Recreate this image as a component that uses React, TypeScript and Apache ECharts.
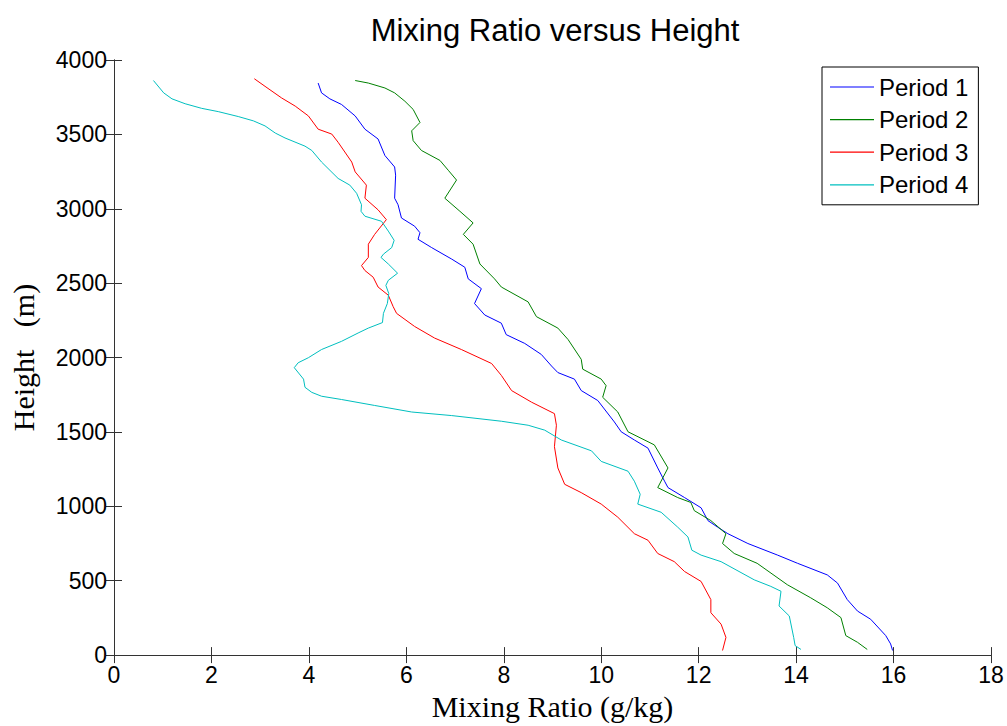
import React, { useEffect, useRef } from "react";
import * as echarts from "echarts";

const seriesNames = ["Period 1", "Period 2", "Period 3", "Period 4"];
const seriesColors = ["#0000ff", "#008000", "#ff0000", "#00bfbf"];

// [mixing ratio (g/kg), height (m)]
const period1: number[][] = [
  [4.19, 3845], [4.26, 3779], [4.43, 3739], [4.67, 3701], [4.95, 3624], [5.15, 3535], [5.42, 3469],
  [5.56, 3358], [5.76, 3281], [5.78, 3226], [5.76, 3071], [5.83, 3027], [5.9, 2938], [6.17, 2883],
  [6.28, 2839], [6.24, 2795], [6.52, 2739], [6.93, 2662], [7.2, 2607], [7.27, 2529], [7.54, 2463],
  [7.4, 2363], [7.61, 2286], [7.95, 2231], [8.05, 2154], [8.43, 2095], [8.77, 2021], [8.98, 1943],
  [9.11, 1899], [9.45, 1855], [9.59, 1778], [9.93, 1711], [10.27, 1567], [10.41, 1501], [10.68, 1446],
  [10.96, 1391], [11.16, 1258], [11.3, 1169], [11.37, 1126], [11.71, 1059], [12.05, 990], [12.19, 904],
  [12.39, 860], [12.6, 816], [13.01, 750], [13.62, 672], [14.03, 617], [14.64, 539], [14.85, 484],
  [15.05, 373], [15.26, 296], [15.53, 241], [15.84, 131], [15.94, 75], [15.98, 31],
];

const period2: number[][] = [
  [4.95, 3862], [5.22, 3845], [5.56, 3812], [5.76, 3779], [5.97, 3723], [6.14, 3668], [6.28, 3580],
  [6.11, 3524], [6.14, 3458], [6.31, 3392], [6.69, 3325], [6.86, 3259], [7.03, 3193], [6.79, 3071],
  [7.1, 2983], [7.37, 2905], [7.17, 2828], [7.37, 2762], [7.51, 2629], [7.81, 2529], [7.95, 2474],
  [8.5, 2374], [8.67, 2275], [9.11, 2198], [9.32, 2121], [9.59, 1988], [9.62, 1922], [10.0, 1855],
  [10.1, 1811], [10.03, 1733], [10.34, 1634], [10.55, 1501], [11.09, 1413], [11.37, 1258], [11.16, 1126],
  [11.57, 1059], [11.84, 1026], [11.91, 971], [12.25, 904], [12.56, 816], [12.49, 750], [12.73, 683],
  [13.2, 617], [13.82, 473], [14.3, 385], [14.64, 318], [14.92, 252], [15.02, 131], [15.26, 86],
  [15.46, 38],
];

const period3: number[][] = [
  [2.88, 3874], [3.1, 3823], [3.44, 3745], [3.72, 3690], [3.99, 3624], [4.19, 3535], [4.47, 3502],
  [4.6, 3447], [4.88, 3314], [4.95, 3248], [5.18, 3159], [5.15, 3071], [5.42, 2993], [5.59, 2927],
  [5.35, 2828], [5.22, 2762], [5.22, 2673], [5.08, 2618], [5.15, 2585], [5.32, 2540], [5.42, 2474],
  [5.63, 2419], [5.73, 2342], [5.8, 2297], [6.17, 2209], [6.58, 2131], [7.13, 2054], [7.75, 1960],
  [7.95, 1880], [8.16, 1778], [8.57, 1700], [9.04, 1623], [9.08, 1545], [9.04, 1401], [9.11, 1258],
  [9.25, 1148], [9.59, 1092], [10.0, 1015], [10.34, 927], [10.68, 816], [10.96, 772], [11.16, 683],
  [11.5, 628], [11.71, 562], [12.05, 495], [12.25, 373], [12.25, 285], [12.46, 208], [12.56, 119],
  [12.49, 31],
];

const period4: number[][] = [
  [0.81, 3862], [1.02, 3779], [1.19, 3739], [1.46, 3706], [1.8, 3675], [2.14, 3653], [2.55, 3620],
  [2.86, 3591], [3.1, 3557], [3.31, 3509], [3.51, 3476], [3.92, 3421], [4.06, 3392], [4.26, 3314],
  [4.6, 3204], [4.84, 3159], [4.98, 3104], [5.08, 3027], [5.07, 2983], [5.15, 2950], [5.49, 2916],
  [5.63, 2850], [5.75, 2788], [5.7, 2739], [5.53, 2695], [5.48, 2673], [5.63, 2629], [5.82, 2567],
  [5.63, 2519], [5.58, 2485], [5.64, 2430], [5.61, 2363], [5.53, 2297], [5.51, 2235], [5.22, 2198],
  [5.01, 2165], [4.67, 2109], [4.26, 2054], [3.99, 1999], [3.78, 1965], [3.7, 1932], [3.89, 1855],
  [3.92, 1800], [4.06, 1766], [4.26, 1740], [4.67, 1718], [5.35, 1678], [6.11, 1634], [6.93, 1610],
  [7.95, 1572], [8.5, 1545], [8.84, 1512], [9.18, 1446], [9.8, 1373], [10.0, 1302], [10.55, 1236],
  [10.68, 1169], [10.8, 1081], [10.75, 1015], [11.23, 960], [11.57, 860], [11.78, 794], [11.86, 705],
  [12.05, 672], [12.46, 628], [13.14, 506], [13.48, 462], [13.69, 429], [13.65, 330], [13.86, 263],
  [13.95, 119], [13.98, 64], [14.1, 38],
];

const allSeries = [period1, period2, period3, period4];

const titleText = "Mixing Ratio versus Height";
const xAxisName = "Mixing Ratio (g/kg)";
const yAxisName = "Height   (m)";

const sans = "'Liberation Sans', Arial, sans-serif";
const serif = "'Liberation Serif', 'Times New Roman', serif";
const axisColor = "#333333";

export default function App() {
  const ref = useRef<HTMLDivElement>(null);

  useEffect(() => {
    if (!ref.current) return;
    const chart = echarts.init(ref.current, null, { renderer: "svg" });
    const tickStyle = { show: true, inside: true, length: 8, lineStyle: { color: axisColor, width: 1 } };
    const lineStyle = { show: true, lineStyle: { color: axisColor, width: 1 } };
    chart.setOption({
      animation: false,
      backgroundColor: "#ffffff",
      title: {
        text: titleText,
        left: 550,
        textAlign: "center",
        top: 10,
        textStyle: { fontFamily: sans, fontSize: 31, fontWeight: "normal", color: "#000" },
      },
      legend: {
        data: seriesNames.map((n) => ({ name: n, icon: "rect" })),
        orient: "vertical",
        left: 822,
        top: 67,
        itemWidth: 44,
        itemHeight: 1.2,
        itemGap: 8.6,
        padding: [8, 10, 8, 8],
        borderColor: "#000",
        borderWidth: 1,
        backgroundColor: "#fff",
        textStyle: { fontFamily: sans, fontSize: 24, color: "#000", lineHeight: 24 },
      },
      grid: { left: 112, right: 16, top: 60, bottom: 63, containLabel: false },
      xAxis: [
        {
          type: "value",
          min: 0,
          max: 18,
          interval: 2,
          position: "bottom",
          name: xAxisName,
          nameLocation: "middle",
          nameGap: 30,
          nameTextStyle: { fontFamily: serif, fontSize: 30, color: "#000" },
          axisLine: lineStyle,
          axisTick: tickStyle,
          axisLabel: { fontFamily: sans, fontSize: 23, color: "#000", margin: 8, formatter: (v: number) => String(v) },
          splitLine: { show: false },
        },
        {
          type: "value",
          min: 0,
          max: 18,
          interval: 2,
          position: "top",
          axisLine: lineStyle,
          axisTick: tickStyle,
          axisLabel: { show: false },
          splitLine: { show: false },
        },
      ],
      yAxis: [
        {
          type: "value",
          min: 0,
          max: 4000,
          interval: 500,
          position: "left",
          name: yAxisName,
          nameLocation: "middle",
          nameGap: 76,
          nameTextStyle: { fontFamily: serif, fontSize: 30, color: "#000" },
          axisLine: lineStyle,
          axisTick: tickStyle,
          axisLabel: { fontFamily: sans, fontSize: 23, color: "#000", margin: 7, formatter: (v: number) => String(v) },
          splitLine: { show: false },
        },
        {
          type: "value",
          min: 0,
          max: 4000,
          interval: 500,
          position: "right",
          axisLine: lineStyle,
          axisTick: tickStyle,
          axisLabel: { show: false },
          splitLine: { show: false },
        },
      ],
      series: allSeries.map((d, i) => ({
        name: seriesNames[i],
        type: "line",
        xAxisIndex: 0,
        yAxisIndex: 0,
        data: d,
        symbol: "none",
        showSymbol: false,
        smooth: false,
        color: seriesColors[i],
        lineStyle: { color: seriesColors[i], width: 1 },
      })),
    });
    return () => chart.dispose();
  }, []);

  return (
    <div
      ref={ref}
      style={{ position: "absolute", left: 0, top: 0, width: 1007, height: 726, background: "#fff" }}
    />
  );
}
